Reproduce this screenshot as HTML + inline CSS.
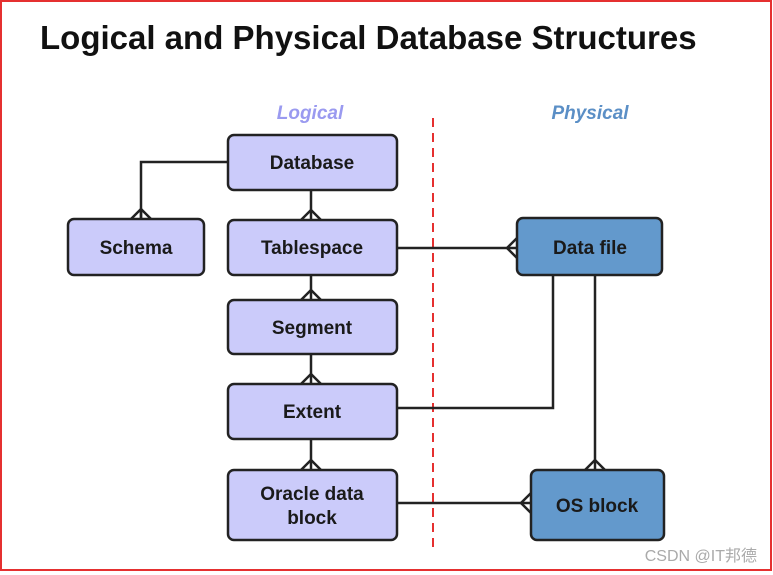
<!DOCTYPE html>
<html><head><style>
body{margin:0;background:#fff;}
svg{display:block;font-family:"Liberation Sans",Arial,sans-serif;}
</style></head><body>
<svg width="773" height="575" viewBox="0 0 773 575">
<rect x="1" y="1" width="770" height="569" fill="#fff" stroke="#e53030" stroke-width="2"/>
<text x="40" y="49" font-size="33" font-weight="bold" fill="#111">Logical and Physical Database Structures</text>
<text x="310" y="119" font-size="19" font-weight="bold" font-style="italic" fill="#9a9af0" text-anchor="middle">Logical</text>
<text x="590" y="119" font-size="19" font-weight="bold" font-style="italic" fill="#5b8fc6" text-anchor="middle">Physical</text>
<line x1="433" y1="118" x2="433" y2="548" stroke="#e53030" stroke-width="2" stroke-dasharray="9,6"/>
<g stroke="#222" stroke-width="2.5" fill="none">
<polyline points="228,162 141,162 141,219"/>
<line x1="311" y1="190" x2="311" y2="220"/>
<line x1="311" y1="275" x2="311" y2="300"/>
<line x1="311" y1="354" x2="311" y2="384"/>
<line x1="311" y1="439" x2="311" y2="470"/>
<line x1="397" y1="248" x2="517" y2="248"/>
<polyline points="553,275 553,408 397,408"/>
<line x1="595" y1="275" x2="595" y2="470"/>
<line x1="397" y1="503" x2="531" y2="503"/>
<path d="M131,219 L141,209 L151,219 M141,209 L141,219"/>
<path d="M301,220 L311,210 L321,220"/>
<path d="M301,300 L311,290 L321,300"/>
<path d="M301,384 L311,374 L321,384"/>
<path d="M301,470 L311,460 L321,470"/>
<path d="M517,238 L507,248 L517,258"/>
<path d="M585,470 L595,460 L605,470"/>
<path d="M531,493 L521,503 L531,513"/>
</g>
<g stroke="#222" stroke-width="2.5">
<rect x="228" y="135" width="169" height="55" rx="6" fill="#cbcbfa"/>
<rect x="68" y="219" width="136" height="56" rx="6" fill="#cbcbfa"/>
<rect x="228" y="220" width="169" height="55" rx="6" fill="#cbcbfa"/>
<rect x="228" y="300" width="169" height="54" rx="6" fill="#cbcbfa"/>
<rect x="228" y="384" width="169" height="55" rx="6" fill="#cbcbfa"/>
<rect x="228" y="470" width="169" height="70" rx="6" fill="#cbcbfa"/>
<rect x="517" y="218" width="145" height="57" rx="6" fill="#6399cc"/>
<rect x="531" y="470" width="133" height="70" rx="6" fill="#6399cc"/>
</g>
<g font-size="19" font-weight="bold" fill="#1a1a1a" text-anchor="middle">
<text x="312" y="169">Database</text>
<text x="136" y="254">Schema</text>
<text x="312" y="254">Tablespace</text>
<text x="312" y="334">Segment</text>
<text x="312" y="418">Extent</text>
<text x="312" y="500">Oracle data</text>
<text x="312" y="524">block</text>
<text x="590" y="254">Data file</text>
<text x="597" y="512">OS block</text>
</g>
<text x="757" y="561" font-size="16" fill="#aaa" text-anchor="end" font-family="Liberation Sans,'Noto Sans CJK SC',sans-serif">CSDN @IT邦德</text>
</svg>
</body></html>
